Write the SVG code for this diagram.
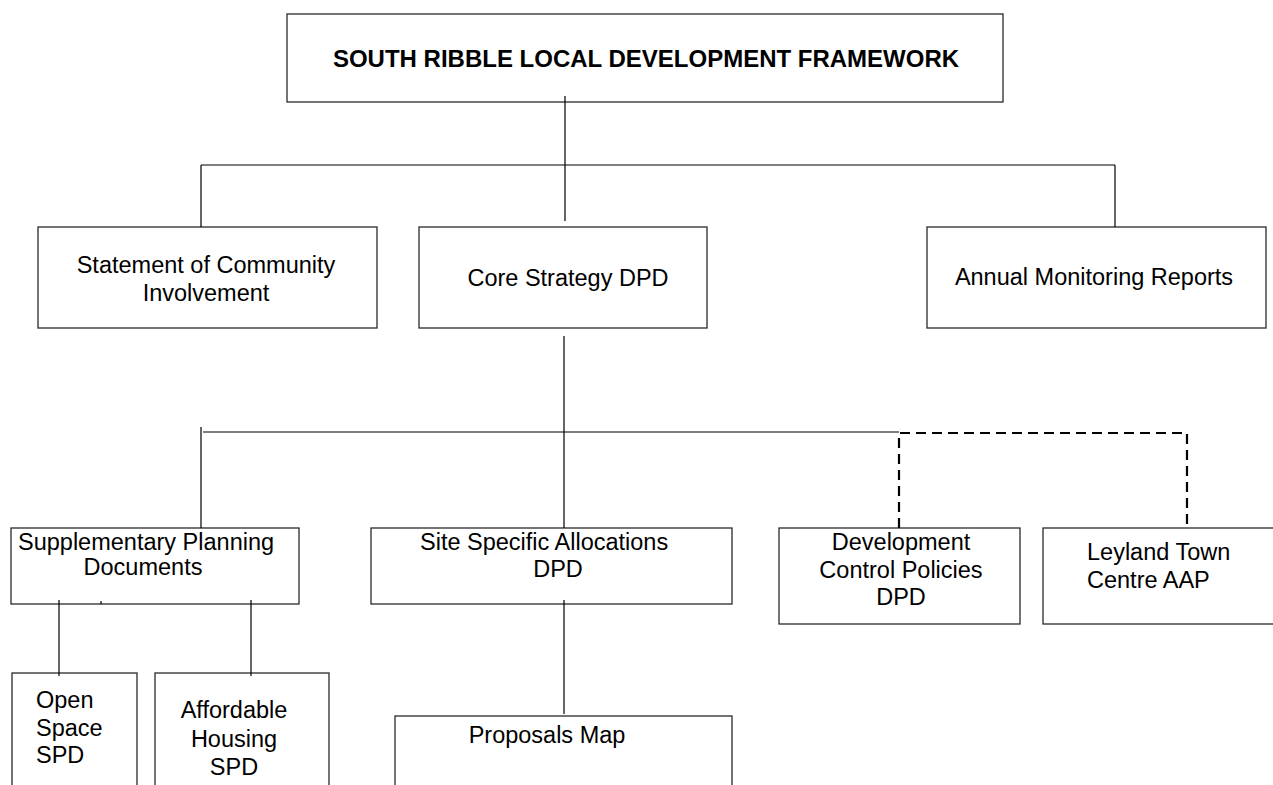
<svg xmlns="http://www.w3.org/2000/svg" width="1273" height="785" viewBox="0 0 1273 785">
<style>
.box{fill:#fff;stroke:#2a2a2a;stroke-width:1.3}
.t{font-family:"Liberation Sans",Arial,sans-serif;font-size:23.5px;fill:#000}
.m{text-anchor:middle}
.b{font-weight:bold;font-size:24px}
.ln{stroke:#000;stroke-width:1.2;fill:none}
.dash{stroke:#000;stroke-width:2.2;fill:none;stroke-dasharray:10 6}
</style>
<rect width="1273" height="785" fill="#fff"/>
<g id="n-framework"><rect class="box" x="287" y="14" width="716" height="88"/><text class="t b m" x="646" y="67">SOUTH RIBBLE LOCAL DEVELOPMENT FRAMEWORK</text></g>
<g id="n-sci"><rect class="box" x="38" y="227" width="339" height="101"/><text class="t m" x="206" y="273">Statement of Community</text><text class="t m" x="206" y="301">Involvement</text></g>
<g id="n-core"><rect class="box" x="419" y="227" width="288" height="101"/><text class="t m" x="568" y="286">Core Strategy DPD</text></g>
<g id="n-amr"><rect class="box" x="927" y="227" width="339" height="101"/><text class="t m" x="1094" y="285">Annual Monitoring Reports</text></g>
<g id="n-spd"><rect class="box" x="11" y="528" width="288" height="76"/><text class="t" x="18" y="550">Supplementary Planning</text><text class="t m" x="143" y="575">Documents</text></g>
<g id="n-ssa"><rect class="box" x="371" y="528" width="361" height="76"/><text class="t" x="420" y="550">Site Specific Allocations</text><text class="t m" x="558" y="577">DPD</text></g>
<g id="n-dcp"><rect class="box" x="779" y="528" width="241" height="96"/><text class="t m" x="901" y="550">Development</text><text class="t m" x="901" y="578">Control Policies</text><text class="t m" x="901" y="605">DPD</text></g>
<g id="n-ltc"><rect class="box" x="1043" y="528" width="240" height="96"/><text class="t" x="1087" y="560">Leyland Town</text><text class="t" x="1087" y="588">Centre AAP</text></g>
<g id="n-os"><rect class="box" x="12" y="673" width="125" height="130"/><text class="t" x="36" y="708">Open</text><text class="t" x="36" y="736">Space</text><text class="t" x="36" y="763">SPD</text></g>
<g id="n-ah"><rect class="box" x="155" y="673" width="174" height="130"/><text class="t m" x="234" y="718">Affordable</text><text class="t m" x="234" y="747">Housing</text><text class="t m" x="234" y="775">SPD</text></g>
<g id="n-pm"><rect class="box" x="395" y="716" width="337" height="90"/><text class="t m" x="547" y="743">Proposals Map</text></g>
<g id="connectors">
<path class="ln" d="M565 96V221M201 165H1115M201 165V227M1115 165V227"/>
<path class="ln" d="M564 336V528M203 432H899M201 427V528"/>
<path class="ln" d="M59 600V676M251 600V676M101 601V604M564 600V714"/>
<path class="dash" d="M899 528V433H1187V528"/>
</g>
</svg>
